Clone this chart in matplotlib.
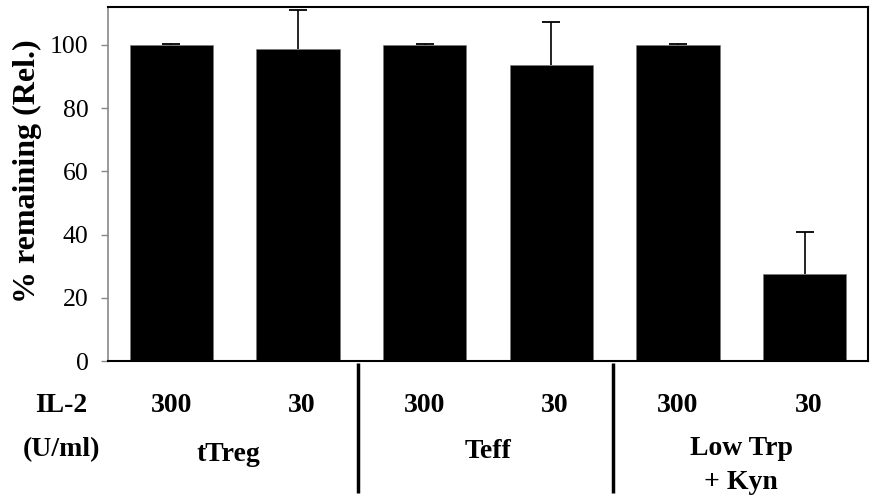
import matplotlib
matplotlib.use("Agg")
from matplotlib import pyplot as plt
import matplotlib.transforms as mtransforms

# data
il2 = ['300', '30', '300', '30', '300', '30']
groups = ['tTreg', 'Teff', 'Low Trp\n+ Kyn']
remaining = [100, 98.7, 100, 93.8, 100, 27.5]
err_up = [0.4, 12.3, 0.4, 13.6, 0.4, 13.3]

plt.rcParams['font.family'] = ['Liberation Serif', 'DejaVu Serif']

fig = plt.figure(figsize=(8.74, 4.98), dpi=100)
ax = fig.add_axes([108/874, 137/498, 760/874, 354/498])

x = list(range(len(remaining)))
tops = [v + e for v, e in zip(remaining, err_up)]

# error bars only upwards: stem + cap, bars drawn over the bottom part
ax.vlines(x, remaining, tops, color='black', linewidth=1.2, zorder=2)
ax.plot(x, tops, ls='none', marker='_', markersize=13, markeredgewidth=1.3,
        color='black', zorder=2)
ax.bar(x, remaining, width=0.66, color='black', edgecolor='#777777',
       linewidth=0.4, zorder=3)

ax.set_xlim(-0.5, 5.5)
ax.set_ylim(0, 112)
ax.set_yticks([0, 20, 40, 60, 80, 100])
ax.tick_params(axis='y', labelsize=18.5, length=5, pad=9, color='#888888', width=1)
ax.set_xticks([])
ax.spines['left'].set_color('#888888')
for s in ['top', 'right', 'bottom']:
    ax.spines[s].set_color('black')
    ax.spines[s].set_linewidth(1.5)
    ax.spines[s].set_zorder(4)
ax.spines['left'].set_linewidth(1.2)

fig.text(27/874, 1 - 171/498, '% remaining (Rel.)', rotation=90, ha='center',
         va='center', fontsize=23, fontweight='bold')

trans = mtransforms.blended_transform_factory(ax.transData, ax.transAxes)
fs = 20
ax.text(-0.87, -0.125, 'IL-2', transform=trans, ha='center', va='center',
        fontsize=fs, fontweight='bold', clip_on=False)
ax.text(-0.87, -0.25, '(U/ml)', transform=trans, ha='center', va='center',
        fontsize=fs, fontweight='bold', clip_on=False)
for i, lab in enumerate(il2):
    ax.text(i + (0.03 if lab == '30' else 0), -0.125, lab, transform=trans,
            ha='center', va='center', fontsize=fs, fontweight='bold', clip_on=False)

grp_x = [0.45, 2.5, 4.5]
grp_y = [-0.265, -0.255, -0.295]
for gx, gy, g in zip(grp_x, grp_y, groups):
    ax.text(gx, gy, g, transform=trans, ha='center', va='center',
            fontsize=fs, fontweight='bold', linespacing=1.45, clip_on=False)

for sx in [1.47, 3.49]:
    ax.plot([sx, sx], [-0.006, -0.373], transform=trans, color='black',
            linewidth=2.5, clip_on=False, solid_capstyle='butt')

fig.savefig('out.png', dpi=100)
